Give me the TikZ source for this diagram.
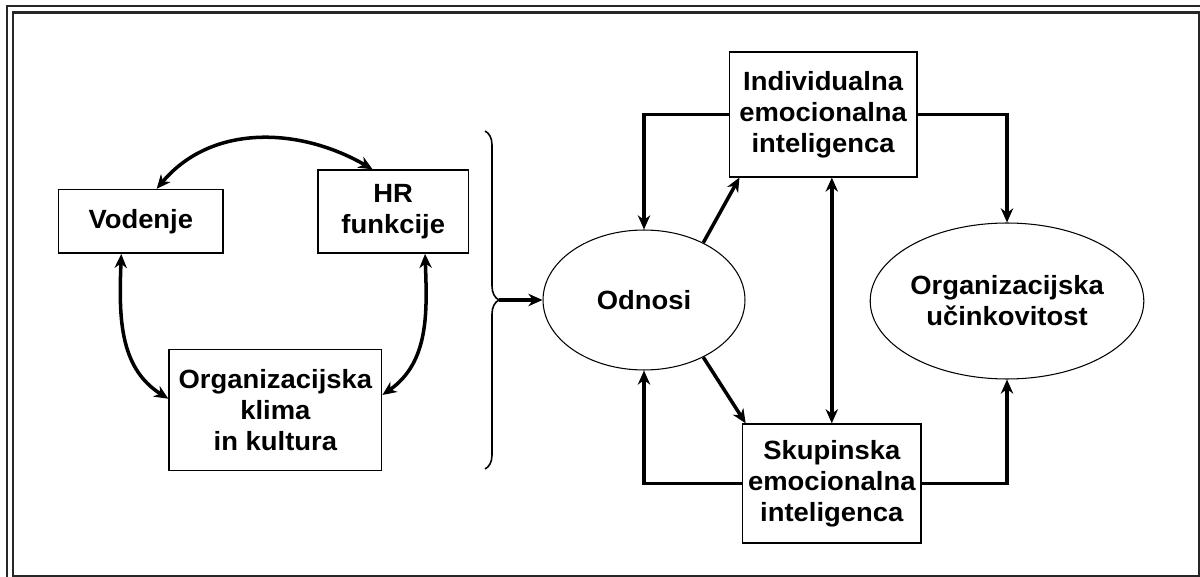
\documentclass[tikz,border=0pt]{standalone}
\usepackage{fontspec}
\setmainfont{Liberation Sans}[FakeStretch=1.04]
\usepackage{tikz}
\usetikzlibrary{arrows.meta, shapes.geometric, positioning, decorations.pathreplacing, calc}
\tikzstyle{arrow}     = [line width=2pt, -{Stealth[length=8pt,width=7pt,inset=2.5pt]}]
\tikzstyle{dblarrow}  = [line width=2pt, {Stealth[length=8pt,width=7pt,inset=2.5pt]}-{Stealth[length=8pt,width=7pt,inset=2.5pt]}]
\tikzstyle{box}       = [draw, line width=0.9pt, rectangle, inner sep=2pt, align=center]
\tikzstyle{oval}      = [draw, line width=0.6pt, ellipse, inner sep=0pt, align=center]

\begin{document}
\begin{tikzpicture}[
        x=0.02cm, y=0.02cm,
        every node/.style={font=\bfseries\fontsize{15}{17.6}\selectfont}
    ]

        \useasboundingbox (0,0) rectangle (1200,-577);
        \draw[line width=1.2pt, black!85] (7,-6) rectangle (1215,-595);
        \draw[line width=1.2pt, black!85] (13,-12.5) rectangle (1198.7,-576);

        % levi krog
        \node[box, minimum width=3.29cm, minimum height=1.27cm] (vod) at (140.8,-221.4) {Vodenje};
        \node[box, minimum width=3.02cm, minimum height=1.66cm] (hr) at (393.2,-211.6) {HR\\funkcije};
        \node[box, minimum width=4.25cm, minimum height=2.42cm] (klima) at (275.4,-410) {Organizacijska\\klima\\in kultura};

        \draw[dblarrow] (vod.64) to[out=50, in=150] (hr.116);
        \draw[dblarrow] (vod.239) to[out=-92, in=148] (klima.174);
        \draw[dblarrow] (hr.307) to[out=-88, in=35] (klima.8);

        % oklepaj
        \draw[line width=0.9pt, decorate, decoration={brace, amplitude=0.28cm}] (485,-131) -- (485,-469);
        \coordinate (bt) at (499,-300);

        % desni del
        \node[oval, minimum width=4.04cm, minimum height=2.8cm] (odnosi) at (644,-300) {Odnosi};
        \node[oval, minimum width=4.55cm, minimum height=3.12cm] (uc) at (1007,-301) {Organizacijska\\učinkovitost};
        \node[box, minimum width=3.75cm, minimum height=2.49cm] (ind) at (823.1,-114.5) {Individualna\\emocionalna\\inteligenca};
        \node[box, minimum width=3.57cm, minimum height=2.38cm] (skup) at (831.8,-483.6) {Skupinska\\emocionalna\\inteligenca};

        \draw[arrow] (bt) -- (odnosi.west);
        \draw[arrow] (odnosi.44) -- (ind.217);
        \draw[arrow] (odnosi.-44) -- (skup.145);
        \draw[arrow] (ind.west) -| (odnosi.north);
        \draw[arrow] (ind.east) -| (uc.north);
        \draw[arrow] (skup.west) -| (odnosi.south);
        \draw[arrow] (skup.east) -| (uc.south);
        \draw[dblarrow] (skup.north |- ind.south) -- (skup.north);

    \end{tikzpicture}
\end{document}
